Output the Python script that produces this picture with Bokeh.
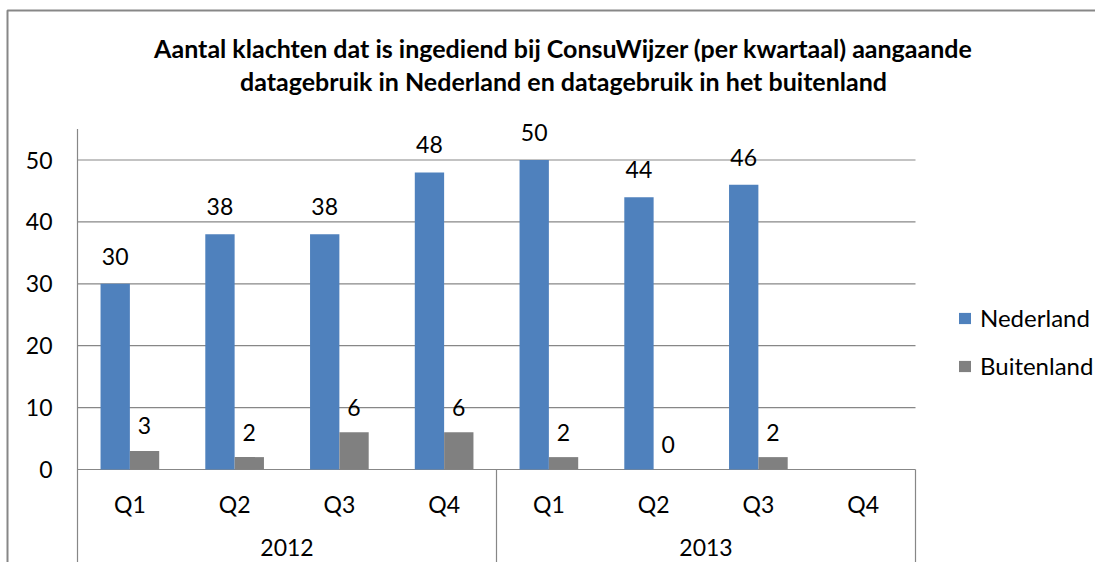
import math
from bokeh.plotting import figure
from bokeh.models import Range1d, Label, Legend, LegendItem, ColumnDataSource
from bokeh.core.properties import value
from bokeh.embed import file_html
from bokeh.resources import INLINE

# ---- data ----
title_lines = [
    "Aantal klachten dat is ingediend bij ConsuWijzer (per kwartaal) aangaande",
    "datagebruik in Nederland en datagebruik in het buitenland",
]
years = ["2012", "2013"]
quarters = ["Q1", "Q2", "Q3", "Q4", "Q1", "Q2", "Q3", "Q4"]
nederland = [30, 38, 38, 48, 50, 44, 46, None]
buitenland = [3, 2, 6, 6, 2, 0, 2, None]
y_ticks = [0, 10, 20, 30, 40, 50]
y_top = 55

# ---- geometry (pixels inside the figure) ----
W, H = 1095, 562
FX0, FX1 = 77, 915          # x of category 0 edge and last edge
FY0, PPU_Y = 469, 6.19      # pixel of value 0, pixels per unit
n = len(quarters)
ppx = (FX1 - FX0) / n
x_range = Range1d(-FX0 / ppx, n + (W - FX1) / ppx)
y_range = Range1d(-(H - FY0) / PPU_Y, FY0 / PPU_Y)

def px2x(px):
    return x_range.start + px / ppx

def py2y(py):
    return y_range.end - py / PPU_Y

FNAME = "Lato"
FONT = value(FNAME)
BLUE = "#4F81BD"
GREY = "#808080"
LINE = "#878787"
FS = "23px"

p = figure(width=W, height=H, x_range=x_range, y_range=y_range,
           output_backend="svg", toolbar_location=None,
           min_border=0, min_border_left=0, min_border_right=0,
           min_border_top=0, min_border_bottom=0)
p.axis.visible = False
p.grid.visible = False
p.outline_line_color = None
p.background_fill_color = "white"
p.border_fill_color = "white"

# outer chart border (top + left; the rest is cropped)
p.line(x=[px2x(7), px2x(7), px2x(W + 10)], y=[py2y(H + 10), py2y(10), py2y(10)],
       line_width=2, line_color=LINE)

# gridlines
p.segment(x0=[0] * len(y_ticks), x1=[n] * len(y_ticks), y0=y_ticks, y1=y_ticks,
          line_color=LINE, line_width=1.2)
# value axis line
p.segment(x0=[0], x1=[0], y0=[y_top], y1=[y_range.start], line_color=LINE, line_width=1.2)
# year separators
per_year = n // len(years)
sep_x = [per_year * (k + 1) for k in range(len(years))]
p.segment(x0=sep_x, x1=sep_x, y0=[0] * len(sep_x), y1=[y_range.start] * len(sep_x),
          line_color=LINE, line_width=1.2)

# y tick labels
p.text(x=[0] * len(y_ticks), y=y_ticks, text=[str(t) for t in y_ticks],
       x_offset=-25, text_align="right", text_baseline="middle",
       text_font=FONT, text_font_size=FS, text_color="black")

# bars
BW = 0.28
def series(vals, shift):
    xs, ys = [], []
    for i, v in enumerate(vals):
        if v is not None:
            xs.append(i + 0.5 + shift)
            ys.append(v)
    return xs, ys

xn, yn = series(nederland, -BW / 2)
xb, yb = series(buitenland, BW / 2)
rn = p.vbar(x=xn, top=yn, width=BW, fill_color=BLUE, line_color=None)
rb = p.vbar(x=xb, top=yb, width=BW, fill_color=GREY, line_color=None)

# value labels
p.text(x=xn, y=yn, text=[str(v) for v in yn], y_offset=-27.5,
       text_align="center", text_baseline="middle",
       text_font=FONT, text_font_size=FS, text_color="black")
p.text(x=xb, y=yb, text=[str(v) for v in yb], y_offset=-25,
       text_align="center", text_baseline="middle",
       text_font=FONT, text_font_size=FS, text_color="black")

# category labels
p.text(x=[i + 0.5 for i in range(n)], y=[0] * n, text=quarters, y_offset=34,
       text_align="center", text_baseline="middle",
       text_font=FONT, text_font_size=FS, text_color="black")
p.text(x=[per_year * (k + 0.5) for k in range(len(years))], y=[0] * len(years),
       text=years, y_offset=78, text_align="center", text_baseline="middle",
       text_font=FONT, text_font_size=FS, text_color="black")

# title
for line, py in zip(title_lines, [47, 80]):
    p.add_layout(Label(x=563, y=H - py, x_units="screen", y_units="screen",
                       text=line, text_align="center", text_baseline="middle",
                       text_font=FNAME, text_font_size="25px", text_font_style="bold",
                       text_color="black"))

# legend
legend = Legend(items=[LegendItem(label="Nederland", renderers=[rn]),
                       LegendItem(label="Buitenland", renderers=[rb])],
                location=(957, 182), padding=0, margin=0, spacing=19,
                glyph_width=15, glyph_height=14, label_height=22,
                label_standoff=8, label_text_font=FNAME,
                label_text_font_size="24px", label_text_color="black",
                border_line_alpha=0, background_fill_alpha=0)
p.add_layout(legend, "center")

open("out.html", "w").write(file_html(p, INLINE))
